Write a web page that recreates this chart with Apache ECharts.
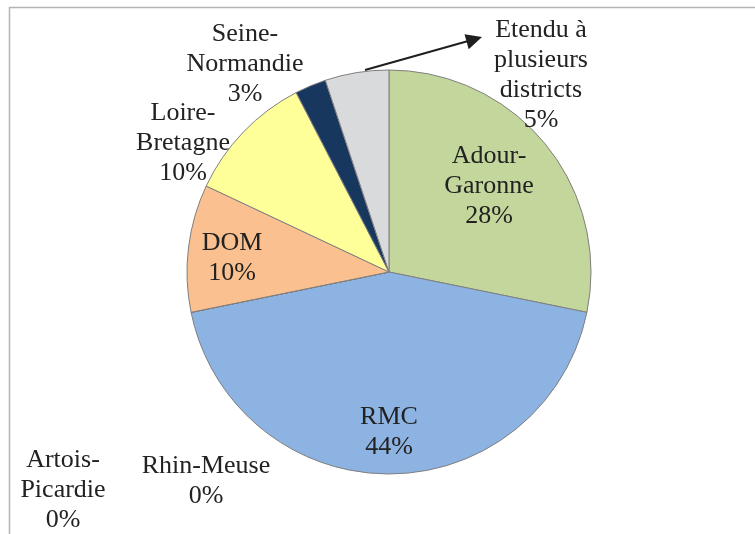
<!DOCTYPE html>
<html>
<head>
<meta charset="utf-8">
<script src="https://cdn.jsdelivr.net/npm/echarts@6/dist/echarts.min.js"></script>
<style>
  html, body { margin: 0; padding: 0; background: #ffffff; }
  #chart { width: 755px; height: 534px; }
</style>
</head>
<body>
<div id="chart"></div>
<script>
// Share of cases by water district (percent), clockwise from 12 o'clock
const districts = ['Adour-Garonne', 'RMC', 'Rhin-Meuse', 'Artois-Picardie', 'DOM', 'Loire-Bretagne', 'Seine-Normandie', 'Etendu à plusieurs districts'];
const shares = [28.2, 43.6, 0, 0, 10.2, 10.4, 2.5, 5.1];
// Text lines used for each label (the percentage line is appended)
const labelLines = [
  ['Adour-', 'Garonne'],
  ['RMC'],
  ['Rhin-Meuse'],
  ['Artois-', 'Picardie'],
  ['DOM'],
  ['Loire-', 'Bretagne'],
  ['Seine-', 'Normandie'],
  ['Etendu à', 'plusieurs', 'districts']
];
const sliceColors = ['#C3D69B', '#8DB3E2', '#4F81BD', '#C0504D', '#FAC090', '#FFFF99', '#17375E', '#D9DADC'];

// Centre of each label block, in pixels
const labelSpots = [
  [489, 186], [389, 432], [206, 481], [63, 490],
  [232, 258], [183, 143], [245, 64], [541, 75]
];

const chart = echarts.init(document.getElementById('chart'), null, { renderer: 'canvas' });

const option = {
  backgroundColor: '#ffffff',
  animation: false,
  graphic: [
    // Chart-area frame (only the top and left edges fall inside the view)
    {
      type: 'polyline',
      shape: { points: [[9.5, 540], [9.5, 7.5], [760, 7.5]] },
      style: { stroke: '#b4b4b4', lineWidth: 1.5, fill: null },
      z: 1
    },
    // Leader arrow for the "Etendu" label
    {
      type: 'line',
      shape: { x1: 365, y1: 70, x2: 470, y2: 40.5 },
      style: { stroke: '#1f1f1f', lineWidth: 2 },
      z: 10
    },
    {
      type: 'polygon',
      shape: { points: [[482, 37], [464.5, 34.2], [468.7, 49.2]] },
      style: { fill: '#1f1f1f' },
      z: 10
    }
  ],
  series: [{
    type: 'pie',
    center: [389, 272],
    radius: 202,
    startAngle: 90,
    clockwise: true,
    percentPrecision: 0,
    avoidLabelOverlap: false,
    stillShowZeroSum: true,
    itemStyle: { borderColor: '#7f7f7f', borderWidth: 1 },
    label: {
      show: true,
      position: 'inside',
      fontFamily: 'Liberation Serif',
      fontSize: 26,
      lineHeight: 30,
      color: '#222222',
      align: 'center',
      formatter: function (p) {
        return labelLines[p.dataIndex].concat([p.percent + '%']).join('\n');
      }
    },
    labelLine: { show: false },
    labelLayout: function (p) {
      const s = labelSpots[p.dataIndex];
      return { x: s[0], y: s[1], align: 'center', verticalAlign: 'middle', hideOverlap: false, moveOverlap: null };
    },
    emphasis: { disabled: true },
    data: districts.map(function (name, i) {
      return { name: name, value: shares[i], itemStyle: { color: sliceColors[i] } };
    })
  }]
};

chart.setOption(option);
</script>
</body>
</html>
